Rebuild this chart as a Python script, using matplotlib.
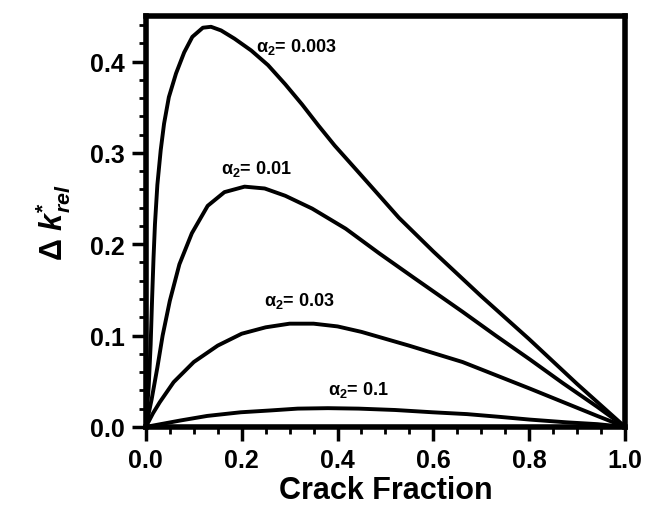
import numpy as np
import matplotlib
matplotlib.use("Agg")
import matplotlib.pyplot as plt
from matplotlib.ticker import MultipleLocator, FormatStrFormatter

plt.rcParams['font.family'] = ['Liberation Sans', 'DejaVu Sans']
plt.rcParams['font.weight'] = 'bold'
plt.rcParams['mathtext.fontset'] = 'custom'
plt.rcParams['mathtext.rm'] = 'Liberation Sans'
plt.rcParams['mathtext.it'] = 'Liberation Sans:italic'
plt.rcParams['mathtext.bf'] = 'Liberation Sans:bold'
plt.rcParams['mathtext.bfit'] = 'Liberation Sans:bold:italic'

# Curves: crack fraction vs relative change
x_a003 = [0.0, 0.006, 0.010, 0.013, 0.016, 0.019, 0.024, 0.031, 0.038, 0.048,
          0.063, 0.080, 0.097, 0.119, 0.136, 0.157, 0.185, 0.220, 0.255, 0.291,
          0.326, 0.360, 0.394, 0.440, 0.479, 0.528, 0.600, 0.700, 0.800, 0.900, 1.0]
y_a003 = [0.0, 0.045, 0.090, 0.140, 0.185, 0.222, 0.265, 0.303, 0.332, 0.361,
          0.387, 0.410, 0.427, 0.437, 0.438, 0.434, 0.425, 0.412, 0.396, 0.375,
          0.353, 0.330, 0.308, 0.281, 0.258, 0.229, 0.192, 0.143, 0.096, 0.047, 0.0]

x_a01 = [0.0, 0.012, 0.024, 0.035, 0.050, 0.070, 0.096, 0.129, 0.164, 0.206,
         0.248, 0.291, 0.347, 0.417, 0.487, 0.560, 0.661, 0.730, 0.801, 0.870,
         0.942, 1.0]
y_a01 = [0.0, 0.030, 0.065, 0.100, 0.138, 0.178, 0.212, 0.242, 0.257, 0.263,
         0.261, 0.253, 0.239, 0.217, 0.190, 0.163, 0.126, 0.100, 0.074, 0.048,
         0.022, 0.0]

x_a03 = [0.0, 0.015, 0.029, 0.058, 0.100, 0.150, 0.200, 0.250, 0.300, 0.350,
         0.400, 0.450, 0.549, 0.661, 0.801, 0.942, 1.0]
y_a03 = [0.0, 0.015, 0.027, 0.049, 0.071, 0.089, 0.102, 0.109, 0.113, 0.113,
         0.110, 0.104, 0.089, 0.071, 0.042, 0.012, 0.0]

x_a1 = [0.0, 0.072, 0.128, 0.198, 0.260, 0.317, 0.380, 0.444, 0.520, 0.598,
        0.670, 0.738, 0.801, 0.878, 0.942, 1.0]
y_a1 = [0.0, 0.007, 0.012, 0.016, 0.018, 0.020, 0.0205, 0.020, 0.0185, 0.016,
        0.014, 0.011, 0.008, 0.005, 0.003, 0.0]

curves = [(x_a003, y_a003), (x_a01, y_a01), (x_a03, y_a03), (x_a1, y_a1)]
labels = ['0.003', '0.01', '0.03', '0.1']
label_pos = [(0.229, 0.411), (0.157, 0.278), (0.246, 0.133), (0.380, 0.036)]

fig = plt.figure(figsize=(6.6, 5.1), dpi=100)
ax = fig.add_axes([0.221, 0.161, 0.726, 0.806])

for xs, ys in curves:
    ax.plot(xs, ys, color='black', lw=2.8, solid_capstyle='round', solid_joinstyle='round')

for lab, (lx, ly) in zip(labels, label_pos):
    ax.text(lx, ly, r'$\mathrm{\alpha}_{\mathbf{2}}$= ' + lab, fontsize=13,
            fontweight='bold', ha='left', va='baseline')

ax.set_xlim(0, 1.0)
ax.set_ylim(0, 0.45)
ax.xaxis.set_major_locator(MultipleLocator(0.2))
ax.xaxis.set_minor_locator(MultipleLocator(0.05))
ax.yaxis.set_major_locator(MultipleLocator(0.1))
ax.yaxis.set_minor_locator(MultipleLocator(0.02))
ax.xaxis.set_major_formatter(FormatStrFormatter('%.1f'))
ax.yaxis.set_major_formatter(FormatStrFormatter('%.1f'))

ax.tick_params(which='major', direction='out', length=10, width=2.5, labelsize=18, pad=5)
ax.tick_params(which='minor', direction='out', length=5, width=2)
for sp in ax.spines.values():
    sp.set_linewidth(4)

ax.set_xlabel('Crack Fraction', fontsize=22, fontweight='bold', labelpad=2)
ax.set_ylabel(r'$\mathrm{\Delta}\ \mathbfit{k}^{\mathbf{*}}_{\mathbfit{rel}}$', fontsize=22,
              fontweight='normal', labelpad=12)

fig.savefig('out.png', dpi=100)
